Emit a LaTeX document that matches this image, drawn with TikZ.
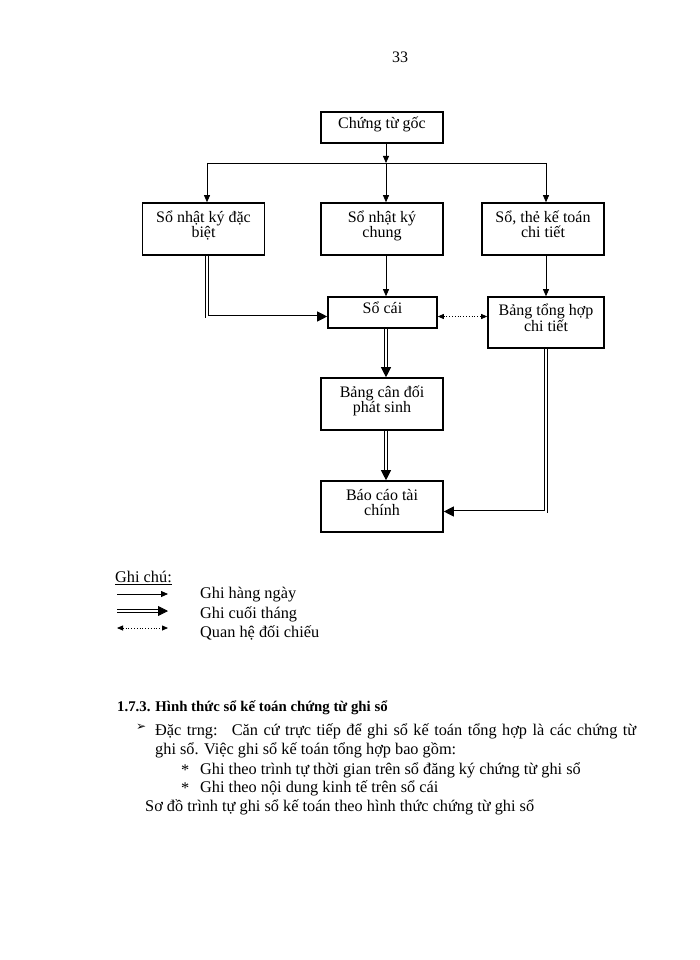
\documentclass[tikz,border=0pt]{standalone}
\usepackage{fontspec}
\setmainfont{Liberation Serif}
\newfontfamily\symfont{DejaVu Sans}
\usetikzlibrary{arrows.meta}

\begin{document}
\begin{tikzpicture}[x=1pt,y=-1pt,font=\fontsize{16}{15}\selectfont,
  box/.style={draw,line width=1.6pt,align=center,inner sep=2pt,minimum width=122pt,minimum height=52pt,
    execute at end node={\rule[-9pt]{0pt}{0pt}}},
  daily/.style={draw,line width=0.8pt,-{Triangle[length=7pt,width=6pt]}},
  monthly/.style={draw,line width=0.8pt,double,double distance=2pt,-{Triangle[length=10pt,width=10pt]}},
  check/.style={draw,line width=0.8pt,dotted,{Triangle[length=6pt,width=5pt]}-{Triangle[length=6pt,width=5pt]}},
  txt/.style={anchor=west,inner sep=0pt,font=\fontsize{16.3}{19}\selectfont}]
  \useasboundingbox (0,0) rectangle (700,960);
  \node (pg) at (400,57) {33};
  % so do
  \node[box,minimum height=31pt] (ctgoc) at (382,127.5) {Chứng từ gốc};
  \node[box] (nkdb) at (203.5,229) {Sổ nhật ký đặc\\biệt};
  \node[box] (nkc) at (382,229) {Sổ nhật ký\\chung};
  \node[box] (ctiet) at (543,229) {Sổ, thẻ kế toán\\chi tiết};
  \node[box,minimum width=109pt,minimum height=31pt] (socai) at (382.5,312.5) {Sổ cái};
  \node[box,minimum width=116pt,minimum height=51pt] (thop) at (546,322.5) {Bảng tổng hợp\\chi tiết};
  \node[box] (cdps) at (382,404) {Bảng cân đối\\phát sinh};
  \node[box,minimum height=51pt] (bctc) at (382,506.5) {Báo cáo tài\\chính};
  \coordinate (colL) at (207,163);
  \coordinate (colM) at (386,163);
  \coordinate (colR) at (546,163);
  \draw[line width=0.8pt] (colL) -- (colR);
  \draw[daily] (ctgoc.south -| colM) -- (colM);
  \foreach \c/\b in {colL/nkdb, colM/nkc, colR/ctiet} {\draw[daily] (\c) -- (\b.north -| \c);}
  \draw[daily] (nkc.south -| colM) -- (socai.north -| colM);
  \draw[daily] (ctiet.south -| colR) -- (thop.north);
  \draw[check] ([yshift=-4pt]socai.east) -- ([yshift=-4pt]thop.west |- socai.east);
  \draw[monthly] (nkdb.south -| colL) |- ([yshift=-4pt]socai.west);
  \draw[monthly] (socai.south -| colM) -- (cdps.north -| colM);
  \draw[monthly] (cdps.south -| colM) -- (bctc.north -| colM);
  \draw[monthly] (thop.south) |- ([yshift=-5pt]bctc.east);
  % ghi chu
  \node[txt] (gchu) at (115,578) {\underline{Ghi chú:}};
  \coordinate (la1) at (117,594); \coordinate (lb1) at (168,594);
  \coordinate (la2) at (117,611); \coordinate (lb2) at (168,611);
  \coordinate (la3) at (117,628); \coordinate (lb3) at (168,628);
  \draw[daily] (la1) -- (lb1);
  \draw[monthly] (la2) -- (lb2);
  \draw[check] (la3) -- (lb3);
  \node[txt] (lg1) at (200,595) {Ghi hàng ngày};
  \node[txt] (lg2) at (200,614) {Ghi cuối tháng};
  \node[txt] (lg3) at (200,633) {Quan hệ đối chiếu};
  % muc 1.7.3
  \node[txt,font=\bfseries\fontsize{14.8}{19}\selectfont] (h173) at (117,708) {1.7.3. Hình thức sổ kế toán chứng từ ghi sổ};
  \node[txt,font=\symfont\fontsize{12}{14}\selectfont] (bul) at (136,727) {➢};
  \node[txt] (p1) at (155,731) {\makebox[481pt][s]{Đặc trng:\hspace{6pt} Căn cứ trực tiếp để ghi sổ kế toán tổng hợp là các chứng từ}};
  \node[txt] (p2) at (155,750) {ghi sổ. Việc ghi sổ kế toán tổng hợp bao gồm:};
  \node[txt] (st1) at (181,770) {*};
  \node[txt] (i1) at (200,770) {Ghi theo trình tự thời gian trên sổ đăng ký chứng từ ghi sổ};
  \node[txt] (st2) at (181,788) {*};
  \node[txt] (i2) at (200,788) {Ghi theo nội dung kinh tế trên sổ cái};
  \node[txt] (p3) at (145,807) {Sơ đồ trình tự ghi sổ kế toán theo hình thức chứng từ ghi sổ};
\end{tikzpicture}
\end{document}
